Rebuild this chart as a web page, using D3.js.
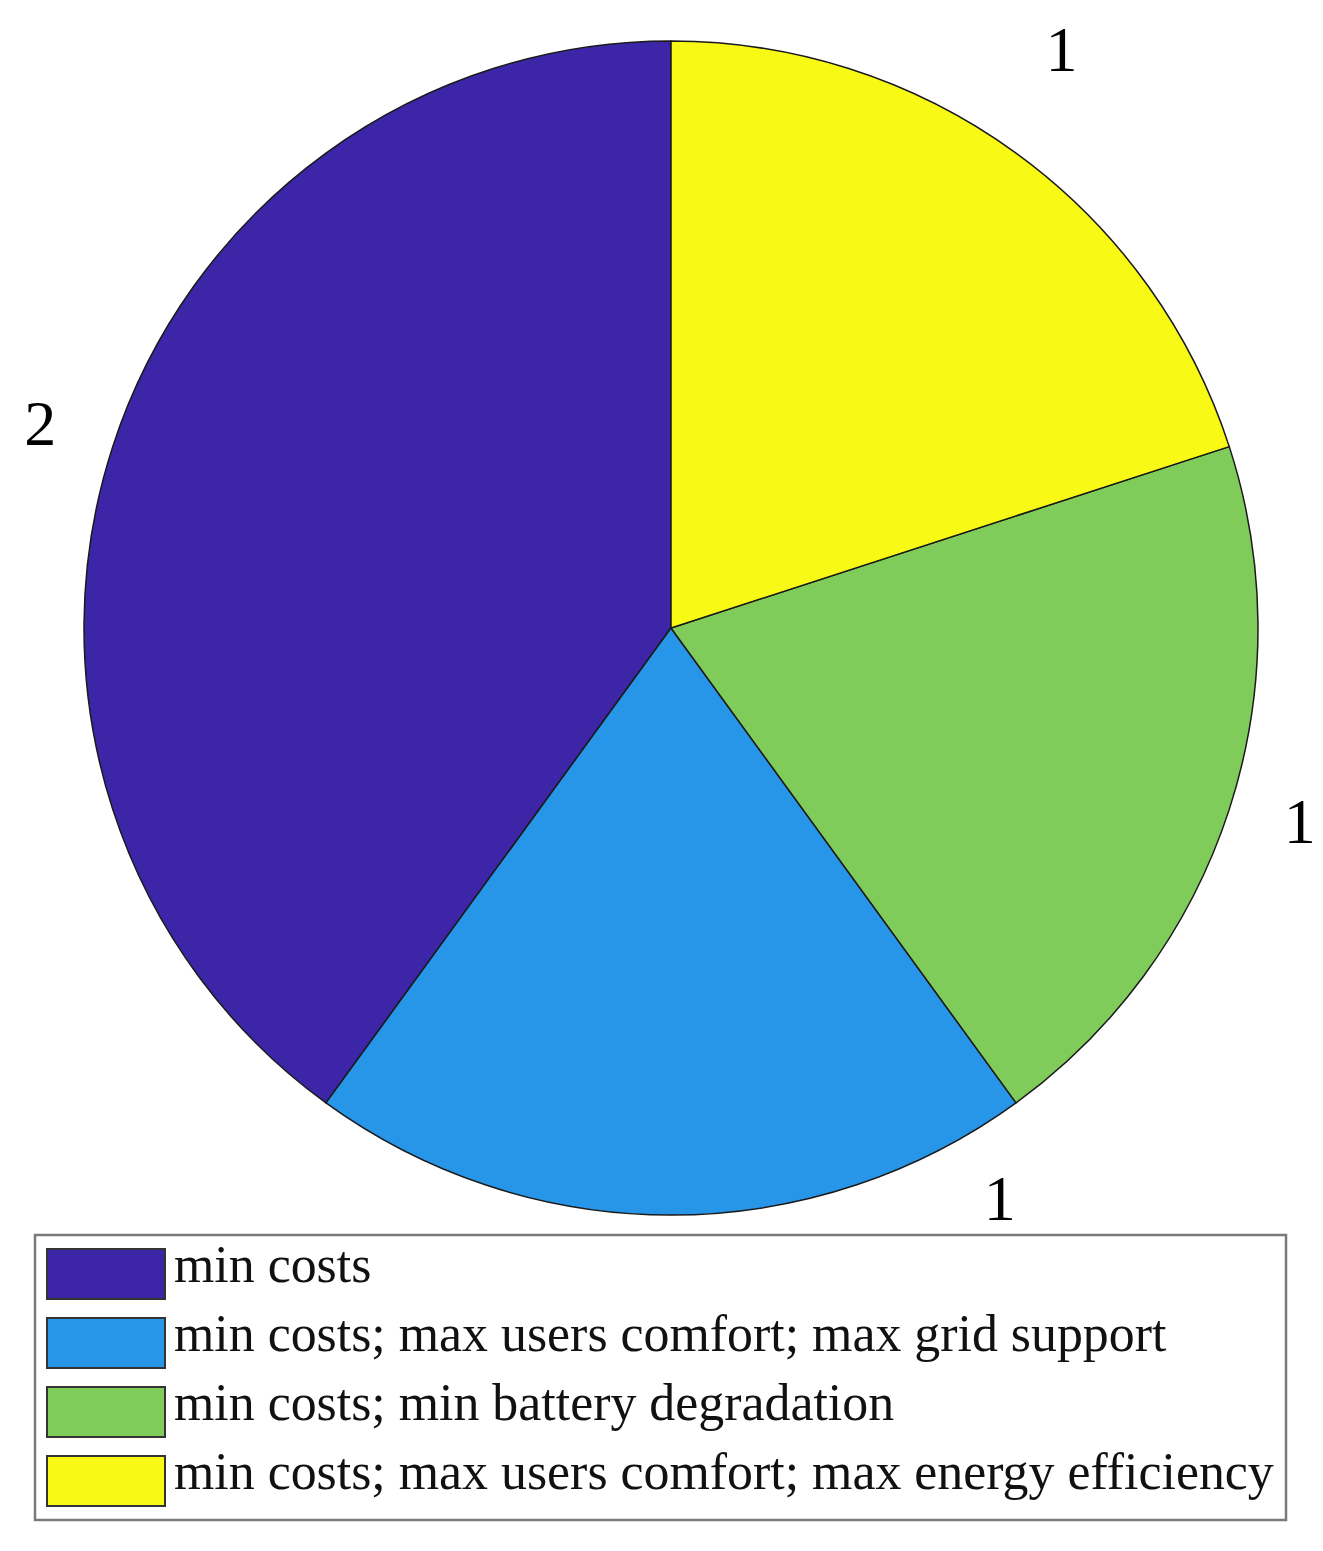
<!DOCTYPE html>
<html>
<head>
<meta charset="utf-8">
<script src="https://cdn.jsdelivr.net/npm/d3@7"></script>
<style>
  body { margin: 0; background: #fff; }
  svg { display: block; }
</style>
</head>
<body>
<div id="chart-area"></div>
<script>
// pie data
const categories = [
  "min costs",
  "min costs; max users comfort; max grid support",
  "min costs; min battery degradation",
  "min costs; max users comfort; max energy efficiency"
]
const counts = [2, 1, 1, 1]
const colors = ["#3c26a7", "#2896e8", "#80cc5a", "#f8f915"]

const width = 1323, height = 1551
const cx = 671, cy = 628, radius = 587

const svg = d3.select("#chart-area").append("svg")
    .attr("width", width)
    .attr("height", height)

svg.append("rect").attr("width", width).attr("height", height).attr("fill", "#fff")

const data = categories.map((c, i) => ({ name: c, value: counts[i], color: colors[i] }))

// matlab style: first slice starts at 12 o'clock, goes counter-clockwise
const pie = d3.pie().sort(null).value(d => d.value)
    .startAngle(0).endAngle(-2 * Math.PI)

const arcs = pie(data)

const arc = d3.arc().innerRadius(0).outerRadius(radius)

const g = svg.append("g").attr("transform", `translate(${cx},${cy})`)

g.selectAll("path")
  .data(arcs)
  .join("path")
    .attr("d", arc)
    .attr("fill", d => d.data.color)
    .attr("stroke", "#1a1a1a")
    .attr("stroke-width", 1.5)
    .attr("stroke-linejoin", "round")

// labels (counts) outside the slices
const labelNudge = [
  { k: 1.13, da: 0 },
  { k: 1.12, da: -30 },   // blue label sits off-centre in the original
  { k: 1.12, da: -1 },
  { k: 1.19, da: -2 }
]
g.selectAll("text.lbl")
  .data(arcs)
  .join("text")
    .attr("class", "lbl")
    .attr("transform", (d, i) => {
      const a = (d.startAngle + d.endAngle) / 2 + labelNudge[i].da * Math.PI / 180
      const r = radius * labelNudge[i].k
      return `translate(${r * Math.sin(a)},${-r * Math.cos(a)})`
    })
    .attr("text-anchor", "middle")
    .attr("dy", "0.35em")
    .attr("font-family", "'Liberation Serif', 'DejaVu Serif', serif")
    .attr("font-size", 64)
    .attr("fill", "#000")
    .text(d => d.data.value)

// legend
const legend = svg.append("g")
const lx = 35, ly = 1235, lw = 1251, lh = 285
legend.append("rect")
    .attr("x", lx).attr("y", ly)
    .attr("width", lw).attr("height", lh)
    .attr("fill", "#fff")
    .attr("stroke", "#7a7a7a")
    .attr("stroke-width", 2.5)

const rowStep = 69, firstBase = 1282

const items = legend.selectAll("g.item")
  .data(data)
  .join("g")
    .attr("class", "item")
    .attr("transform", (d, i) => `translate(0,${firstBase + i * rowStep})`)

items.append("rect")
    .attr("x", 47).attr("y", -33)
    .attr("width", 118).attr("height", 50)
    .attr("fill", d => d.color)
    .attr("stroke", "#333")
    .attr("stroke-width", 2)

const texts = items.append("text")
    .attr("x", 174)
    .attr("font-family", "'Liberation Serif', 'DejaVu Serif', serif")
    .attr("font-size", 50)
    .attr("fill", "#111")
    .text(d => d.name)

// fit the longest label to the width seen in the original
let longest = 0
texts.each(function() { longest = Math.max(longest, this.getComputedTextLength()) })
const fs = 50 * 1100 / longest
texts.attr("font-size", fs)
</script>
</body>
</html>
